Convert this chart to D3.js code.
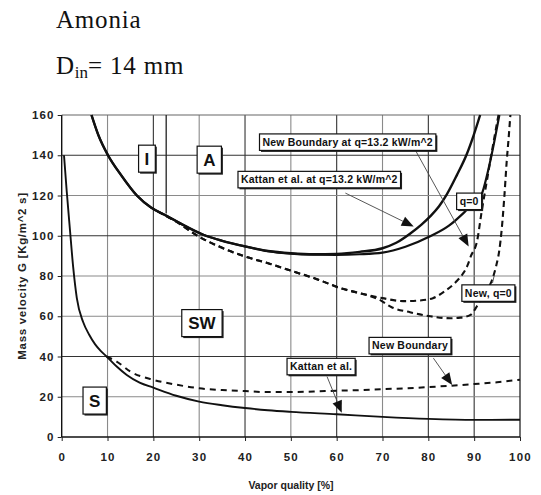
<!DOCTYPE html>
<html>
<head>
<meta charset="utf-8">
<script src="https://cdn.jsdelivr.net/npm/d3@7"></script>
<style>
  html, body { margin: 0; padding: 0; background: #fff; }
  svg { display: block; }
</style>
</head>
<body>
<svg id="chart" width="541" height="495"></svg>
<script>
// ---------- data (x = vapor quality %, G = mass velocity kg/m^2 s) ----------
const xTicks = [0, 10, 20, 30, 40, 50, 60, 70, 80, 90, 100];
const yTicks = [0, 20, 40, 60, 80, 100, 120, 140, 160];

// Kattan et al. intermittent/annular boundary at q = 13.2 kW/m^2 (solid)
const kattanQ13 = [[6.5,160],[8,150],[10.1,140],[13,130],[16.4,120],[19.5,114],[22.8,110],[26,106],[30.9,100.5],[35,97.5],[40,94.7],[45,92.4],[50,91.3],[55,90.8],[60,91],[65,92],[70,93.8],[73,96.5],[76,101],[78.5,105.5],[80.4,109.6],[82.3,114.5],[84,120.4],[86.2,130],[88.4,140.6],[89.9,150],[91.3,160]];
// Kattan et al. boundary at q = 0 (solid)
const kattanQ0 = [[6.5,160],[8,150],[10.1,140],[13,130],[16.4,120],[19.5,114],[22.8,110],[26,106],[30.9,100.5],[35,97.5],[40,94.7],[45,92.4],[50,91.1],[55,90.6],[60,90.5],[65,90.8],[70,91.6],[75,94.5],[80.4,99.7],[84.5,105],[88,112],[90,116.5],[91.7,121],[92.8,130],[93.6,138],[94.5,148],[95.5,160]];
// New boundary at q = 13.2 kW/m^2 (dashed)
const newQ13 = [[21,112],[25,107],[30,99.5],[35,94],[40,89.7],[45.5,86],[50.6,82.2],[55,79],[61.5,73.5],[65,71.5],[70,69],[74.5,67.5],[78,67.8],[81,69],[83.3,72],[86,77],[87.5,81],[88.5,85],[89.3,90],[90.6,97],[91.7,113],[92.6,125],[93.5,137],[94.5,150],[95.3,160]];
// New boundary at q = 0 (dashed)
const newQ0 = [[21,112],[25,107],[30,99.5],[35,94],[40,89.7],[45.5,86],[50.6,82.2],[55,79],[61.5,73.5],[65,71.5],[69.5,68],[72,64.5],[76,62],[80.4,60],[84.8,59],[87,59.3],[89.2,60.7],[90.6,65],[92,71],[93.9,78],[94.8,85],[95.5,93],[96,103],[96.6,120],[97.1,137],[97.5,148],[97.9,160]];
// Kattan et al. stratified / stratified-wavy boundary (solid)
const kattanS = [[0.5,140],[1.1,122],[1.8,103],[2.5,84.5],[3.3,69],[4.7,57],[6,50.8],[7.3,46],[8.5,42.8],[9.8,40],[12,35],[14.2,30.8],[17,27],[20,24.5],[25,20.5],[30,17.6],[35,15.8],[40,14.4],[45,13.3],[50,12.5],[60,11.3],[70,10],[80,9],[90,8.5],[100,8.6]];
// New stratified / stratified-wavy boundary (dashed)
const newS = [[9.8,40],[12,37.5],[15,32.5],[20,28.4],[25,26],[30,24.2],[35,23.3],[40,22.8],[45,22.3],[50,22.3],[55,22.6],[60,23],[65,23.3],[70,23.8],[75,24.2],[80,24.8],[85,25.5],[90,26.3],[95,27.2],[100,28.5]];
// Intermittent / annular vertical transition
const iaLine = [[22.8,160],[22.8,111]];

// labels
const labelX = [18.6, 32.2, 62.4, 56.2, 88.9, 93.1, 30.6, 7.2, 76.0, 56.6];
const labelG = [138.3, 137.8, 146.5, 127.9, 117.1, 71.5, 56.6, 18.1, 45.4, 35.0];
const labelText = ["I", "A", "New Boundary at q=13.2 kW/m^2", "Kattan et al. at q=13.2 kW/m^2", "q=0", "New, q=0", "SW", "S", "New Boundary", "Kattan et al."];
const labelBig = [true, true, false, false, false, false, true, true, false, false];

// arrows: from [x,G] to [x,G]
const arrowFrom = [[77.1,142.8],[61.9,121.2],[81.1,39.2],[57.9,30.0]];
const arrowTo   = [[88.8,94.7],[76.8,104.6],[85.2,25.9],[61.1,12.1]];

// ---------- drawing ----------
const svg = d3.select("#chart");
const x = d3.scaleLinear().domain([0, 100]).range([61.7, 520]);
const y = d3.scaleLinear().domain([0, 160]).range([437, 115]);

// title
const title = svg.append("g").attr("font-family", "'Liberation Serif','Times New Roman',serif").attr("fill", "#111");
title.append("text").attr("x", 56).attr("y", 27.5).attr("font-size", 25).attr("letter-spacing", 0.8).text("Amonia");
const t2 = title.append("text").attr("x", 56).attr("y", 74).attr("font-size", 25).attr("letter-spacing", 0.8);
t2.append("tspan").text("D");
t2.append("tspan").attr("font-size", 17).attr("dy", 4).attr("letter-spacing", 0).text("in");
t2.append("tspan").attr("dy", -4).text("= 14 mm");

// grid
const darkV = [20, 40, 60, 80, 90];
const darkH = [140, 100, 40];
const grid = svg.append("g");
grid.selectAll("line.v").data(xTicks.slice(1, -1)).join("line")
  .attr("x1", d => x(d)).attr("x2", d => x(d)).attr("y1", y(0)).attr("y2", y(160))
  .attr("stroke", d => darkV.includes(d) ? "#333" : "#8a8a8a").attr("stroke-width", 1.1);
grid.selectAll("line.h").data(yTicks.slice(1, -1)).join("line")
  .attr("y1", d => y(d)).attr("y2", d => y(d)).attr("x1", x(0)).attr("x2", x(100))
  .attr("stroke", d => darkH.includes(d) ? "#333" : "#8a8a8a").attr("stroke-width", 1.1);
// frame
grid.append("line").attr("x1", x(0)).attr("x2", x(100)).attr("y1", y(160)).attr("y2", y(160)).attr("stroke", "#666").attr("stroke-width", 1.2);
grid.append("line").attr("x1", x(100)).attr("x2", x(100)).attr("y1", y(0)).attr("y2", y(160)).attr("stroke", "#222").attr("stroke-width", 1.3);
grid.append("line").attr("x1", x(0)).attr("x2", x(0)).attr("y1", y(0)).attr("y2", y(160)).attr("stroke", "#111").attr("stroke-width", 1.4);
grid.append("line").attr("x1", x(0)).attr("x2", x(100)).attr("y1", y(0)).attr("y2", y(0)).attr("stroke", "#111").attr("stroke-width", 1.6);

// axes
const tickFont = "'Liberation Sans',Arial,sans-serif";
const xAxis = svg.append("g").attr("transform", `translate(0,${y(0)})`)
  .call(d3.axisBottom(x).tickValues(xTicks).tickSize(4).tickPadding(12).tickFormat(d3.format("d")));
const yAxis = svg.append("g").attr("transform", `translate(${x(0)},0)`)
  .call(d3.axisLeft(y).tickValues(yTicks).tickSize(4).tickPadding(3).tickFormat(d3.format("d")));
[xAxis, yAxis].forEach(a => {
  a.select(".domain").remove();
  a.selectAll(".tick line").attr("stroke", "#222");
  a.selectAll(".tick text").attr("font-family", tickFont).attr("font-weight", "bold")
    .attr("font-size", 11.5).attr("letter-spacing", 1.2).attr("fill", "#222");
});

svg.append("text").attr("x", 291).attr("y", 489).attr("text-anchor", "middle")
  .attr("font-family", tickFont).attr("font-weight", "bold").attr("font-size", 10.5).attr("fill", "#222")
  .text("Vapor quality [%]");
svg.append("text").attr("transform", "translate(26,276) rotate(-90)").attr("text-anchor", "middle")
  .attr("font-family", tickFont).attr("font-weight", "bold").attr("font-size", 11.5).attr("letter-spacing", 0.7).attr("fill", "#222")
  .text("Mass velocity G [Kg/m^2 s]");

// curves
const lineM = d3.line().x(d => x(d[0])).y(d => y(d[1])).curve(d3.curveMonotoneX);
const lineL = d3.line().x(d => x(d[0])).y(d => y(d[1]));
const curves = svg.append("g").attr("fill", "none").attr("stroke", "#111").attr("stroke-linecap", "butt");
curves.append("path").datum(kattanQ13).attr("d", lineM).attr("stroke-width", 2.4);
curves.append("path").datum(kattanQ0).attr("d", lineM).attr("stroke-width", 2.2);
curves.append("path").datum(newQ13).attr("d", lineM).attr("stroke-width", 2.1).attr("stroke-dasharray", "6,4");
curves.append("path").datum(newQ0).attr("d", lineM).attr("stroke-width", 2.1).attr("stroke-dasharray", "6,4");
curves.append("path").datum(kattanS).attr("d", lineM).attr("stroke-width", 1.9);
curves.append("path").datum(newS).attr("d", lineM).attr("stroke-width", 2.0).attr("stroke-dasharray", "6,5");
curves.append("path").datum(iaLine).attr("d", lineL).attr("stroke-width", 1.3).attr("stroke", "#222");

// arrows
const arr = svg.append("g");
arrowFrom.forEach((f, i) => {
  const t = arrowTo[i];
  const x1 = x(f[0]), y1 = y(f[1]), x2 = x(t[0]), y2 = y(t[1]);
  const ang = Math.atan2(y2 - y1, x2 - x1);
  const L = 12, W = 5;
  const bx = x2 - L * Math.cos(ang), by = y2 - L * Math.sin(ang);
  arr.append("line").attr("x1", x1).attr("y1", y1).attr("x2", bx).attr("y2", by)
    .attr("stroke", "#444").attr("stroke-width", 0.9);
  const p = [[x2, y2], [bx + W * Math.sin(ang), by - W * Math.cos(ang)], [bx - W * Math.sin(ang), by + W * Math.cos(ang)]];
  arr.append("path").attr("d", "M" + p.map(q => q.join(",")).join("L") + "Z").attr("fill", "#111");
});
arr.append("line").attr("x1", x(94.0)).attr("y1", y(76.5)).attr("x2", x(94.4)).attr("y2", y(80.5))
  .attr("stroke", "#444").attr("stroke-width", 0.9);

// label boxes
const labels = svg.append("g");
labelText.forEach((txt, i) => {
  const g = labels.append("g").attr("transform", `translate(${x(labelX[i])},${y(labelG[i])})`);
  const tx = g.append("text").attr("text-anchor", "middle").attr("dy", "0.36em")
    .attr("font-family", tickFont).attr("font-weight", "bold")
    .attr("font-size", labelBig[i] ? 17 : 10.5).attr("fill", "#111")
    .attr("letter-spacing", labelBig[i] ? 0 : 0.2).text(txt);
  const bb = tx.node().getBBox();
  const padX = labelBig[i] ? 6 : 3, padY = labelBig[i] ? 5 : 2.5;
  const w = bb.width + 2 * padX, h = (labelBig[i] ? 17 : 11.5) + 2 * padY;
  g.insert("rect", "text").attr("x", -w / 2 + 1.5).attr("y", -h / 2 + 1.5).attr("width", w).attr("height", h).attr("fill", "#222");
  g.insert("rect", "text").attr("x", -w / 2).attr("y", -h / 2).attr("width", w).attr("height", h)
    .attr("fill", "#fff").attr("stroke", "#111").attr("stroke-width", 1.2);
});
</script>
</body>
</html>
